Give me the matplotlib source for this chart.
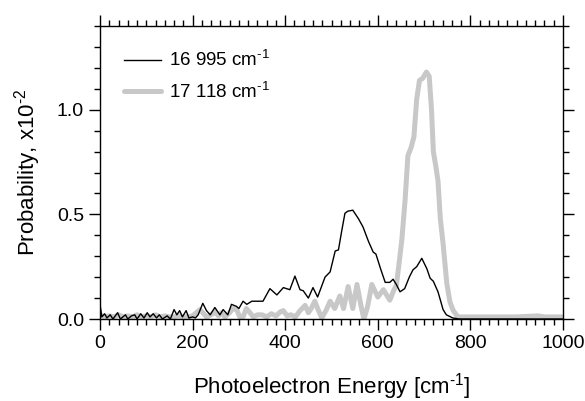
import matplotlib
matplotlib.use("Agg")
import matplotlib.pyplot as plt
from matplotlib.ticker import MultipleLocator

plt.rcParams['font.family'] = ['Liberation Sans', 'DejaVu Sans']
plt.rcParams['mathtext.fontset'] = 'custom'
plt.rcParams['mathtext.rm'] = 'Liberation Sans'
plt.rcParams['mathtext.it'] = 'Liberation Sans'

# 16 995 cm-1 series (black, thin)
x_a = [0, 4, 10, 15, 22, 28, 38, 44, 55, 60, 68, 75, 80, 88, 95, 102, 108, 115, 122, 128,
       135, 145, 152, 160, 166, 172, 178, 186, 192, 200, 206, 212, 222, 230, 238, 248, 259,
       266, 276, 284, 295, 300, 309, 317, 328, 352, 367, 382, 396, 410, 421, 432, 439, 450,
       460, 470, 486, 497, 508, 515, 522, 529, 535, 546, 558, 568, 580, 590, 596, 606, 616,
       626, 633, 640, 648, 658, 668, 676, 684, 695, 706, 713, 720, 730, 741, 748, 762, 775, 1000]
y_a = [0.07, 0.01, 0.025, 0.005, 0.02, 0.0, 0.03, 0.0, 0.02, 0.0, 0.015, 0.02, 0.0, 0.025,
       0.005, 0.03, 0.01, 0.025, 0.005, 0.02, 0.0, 0.015, 0.0, 0.045, 0.02, 0.04, 0.01, 0.04,
       0.005, 0.01, 0.005, 0.02, 0.075, 0.04, 0.02, 0.055, 0.02, 0.045, 0.02, 0.07, 0.06, 0.05,
       0.085, 0.07, 0.085, 0.085, 0.145, 0.115, 0.15, 0.14, 0.205, 0.14, 0.135, 0.10, 0.15,
       0.105, 0.20, 0.225, 0.325, 0.33, 0.42, 0.505, 0.515, 0.52, 0.48, 0.44, 0.37, 0.32, 0.31,
       0.24, 0.175, 0.175, 0.19, 0.165, 0.13, 0.145, 0.20, 0.235, 0.25, 0.29, 0.24, 0.195,
       0.18, 0.13, 0.045, 0.02, 0.005, 0.0, 0.0]

# 17 118 cm-1 series (grey, thick)
x_b = [0, 10, 20, 30, 40, 50, 60, 70, 80, 90, 100, 110, 120, 130, 140, 150, 160, 170, 180,
       190, 200, 208, 216, 224, 230, 240, 248, 256, 262, 270, 280, 287, 295, 302, 309, 316,
       324, 331, 340, 350, 360, 370, 380, 390, 396, 404, 412, 422, 432, 443, 450, 456, 464,
       470, 479, 488, 497, 507, 518, 526, 536, 546, 555, 564, 570, 578, 587, 600, 612, 626,
       635, 640, 644, 652, 659, 665, 672, 678, 684, 690, 697, 705, 711, 716, 720, 726, 730,
       735, 741, 749, 756, 763, 773, 800, 850, 900, 946, 960, 1000]
y_b = [0.02, 0.01, 0.015, 0.01, 0.02, 0.01, 0.015, 0.01, 0.02, 0.01, 0.015, 0.01, 0.02,
       0.01, 0.015, 0.01, 0.01, 0.015, 0.01, 0.01, 0.015, 0.03, 0.045, 0.025, 0.01, 0.02,
       0.035, 0.015, 0.03, 0.01, 0.03, 0.05, 0.045, 0.01, 0.01, 0.05, 0.03, 0.01, 0.02, 0.02,
       0.01, 0.025, 0.015, 0.035, 0.04, 0.015, 0.02, 0.01, 0.04, 0.065, 0.03, 0.05, 0.085,
       0.05, 0.005, 0.04, 0.085, 0.05, 0.11, 0.05, 0.155, 0.05, 0.165, 0.06, 0.0, 0.06, 0.165,
       0.105, 0.14, 0.09, 0.14, 0.16, 0.23, 0.38, 0.57, 0.78, 0.82, 0.87, 1.05, 1.14, 1.15,
       1.18, 1.16, 1.0, 0.80, 0.72, 0.66, 0.48, 0.36, 0.17, 0.08, 0.04, 0.01, 0.01, 0.01,
       0.01, 0.015, 0.01, 0.01]

labels = [r"16 995 cm$^{\text{-}1}$", r"17 118 cm$^{\text{-}1}$"]

fig = plt.figure(figsize=(5.85, 4.01), dpi=100)
ax = fig.add_axes([100/585, 1-319/401, 463/585, 293/401])

ax.plot(x_b, y_b, color='#c8c8c8', lw=3.6, label=labels[1], zorder=2,
        solid_joinstyle='round', solid_capstyle='round')
ax.plot(x_a, y_a, color='black', lw=1.0, label=labels[0], zorder=3)

ax.set_xlim(0, 1000)
ax.set_ylim(0, 1.4)
ax.xaxis.set_major_locator(MultipleLocator(200))
ax.xaxis.set_minor_locator(MultipleLocator(20))
ax.yaxis.set_major_locator(MultipleLocator(0.5))
ax.yaxis.set_minor_locator(MultipleLocator(0.1))
ax.yaxis.set_major_formatter(matplotlib.ticker.FormatStrFormatter('%.1f'))
ax.tick_params(which='both', direction='out', top=True, right=True, width=1.0, labelsize=14)
ax.tick_params(which='major', length=8)
ax.tick_params(which='minor', length=4.5)
for s in ax.spines.values():
    s.set_linewidth(1.0)

ax.set_xlabel(r"Photoelectron Energy [cm$^{\text{-}1}$]", fontsize=16, labelpad=14)
ax.set_ylabel(r"Probability, x10$^{\text{-}2}$", fontsize=16, labelpad=10)

h, l = ax.get_legend_handles_labels()
ax.legend([h[1], h[0]], [l[1], l[0]], loc='upper left', frameon=False, fontsize=13.5,
          handlelength=2.0, handletextpad=0.4, labelspacing=0.6,
          bbox_to_anchor=(0.015, 0.975))

fig.savefig("out.png", dpi=100)
